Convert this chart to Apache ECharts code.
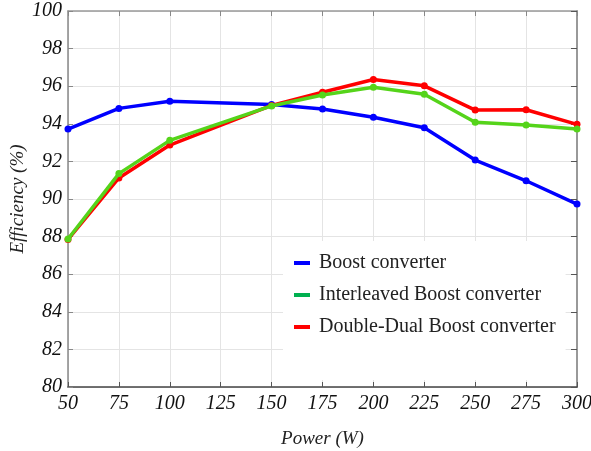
<!DOCTYPE html>
<html>
<head>
<meta charset="utf-8">
<script src="https://cdn.jsdelivr.net/npm/echarts@6/dist/echarts.min.js"></script>
<style>html,body{margin:0;padding:0;background:#fff;}#c{width:591px;height:451px;}</style>
</head>
<body>
<div id="c"></div>
<script>
var power = [50, 75, 100, 150, 175, 200, 225, 250, 275, 300];
var boost = [93.72, 94.82, 95.2, 95.03, 94.79, 94.35, 93.79, 92.07, 90.97, 89.73];
var interleaved = [87.87, 91.35, 93.12, 94.95, 95.53, 95.94, 95.57, 94.08, 93.94, 93.72];
var doubleDual = [87.85, 91.12, 92.87, 94.98, 95.68, 96.36, 96.02, 94.73, 94.75, 93.97];
var seriesNames = ['Boost converter', 'Interleaved Boost converter', 'Double-Dual Boost converter'];

function pairs(ys) { return power.map(function (x, i) { return [x, ys[i]]; }); }

var serif = 'Liberation Serif';
var chart = echarts.init(document.getElementById('c'));
function lineSeries(name, data, color, z) {
  return {
    name: name, type: 'line', data: pairs(data), z: z,
    symbol: 'circle', symbolSize: 7,
    lineStyle: { color: color, width: 3.5 },
    itemStyle: { color: color },
    animation: false
  };
}
chart.setOption({
  backgroundColor: '#fff',
  animation: false,
  grid: { left: 68, right: 14, top: 11, bottom: 64, containLabel: false, outerBoundsMode: 'none' },
  xAxis: [{
    type: 'value', min: 50, max: 300, interval: 25, position: 'bottom',
    name: 'Power (W)', nameLocation: 'middle', nameGap: 42,
    nameTextStyle: { fontFamily: serif, fontStyle: 'italic', fontSize: 19, color: '#222' },
    axisLine: { show: true, onZero: false, lineStyle: { color: '#444', width: 1.5 } },
    axisTick: { show: true, inside: true, length: 5, lineStyle: { color: '#555' } },
    axisLabel: { fontFamily: serif, fontStyle: 'italic', fontSize: 20, color: '#111', margin: 7 },
    splitLine: { show: true, lineStyle: { color: '#e4e4e4', width: 1 } }
  }, {
    type: 'value', min: 50, max: 300, interval: 25, position: 'top',
    axisLine: { show: true, onZero: false, lineStyle: { color: '#999', width: 1.5 } },
    axisTick: { show: true, inside: true, length: 5, lineStyle: { color: '#888' } },
    axisLabel: { show: false }, splitLine: { show: false }
  }],
  yAxis: [{
    type: 'value', min: 80, max: 100, interval: 2, position: 'left',
    name: 'Efficiency (%)', nameLocation: 'middle', nameGap: 41, nameMoveOverlap: false,
    nameTextStyle: { fontFamily: serif, fontStyle: 'italic', fontSize: 19, color: '#222' },
    axisLine: { show: true, onZero: false, lineStyle: { color: '#888', width: 1.5 } },
    axisTick: { show: true, inside: true, length: 5, lineStyle: { color: '#888' } },
    axisLabel: { fontFamily: serif, fontStyle: 'italic', fontSize: 20, color: '#111', margin: 6 },
    splitLine: { show: true, lineStyle: { color: '#e4e4e4', width: 1 } }
  }, {
    type: 'value', min: 80, max: 100, interval: 2, position: 'right',
    axisLine: { show: true, onZero: false, lineStyle: { color: '#999', width: 2 } },
    axisTick: { show: true, inside: true, length: 6, lineStyle: { color: '#555' } },
    axisLabel: { show: false }, splitLine: { show: false }
  }],
  legend: {
    orient: 'vertical', left: 283, top: 241,
    padding: [12, 10, 43, 11],
    backgroundColor: '#fff',
    itemWidth: 16, itemHeight: 4, itemGap: 12,
    icon: 'rect',
    textStyle: { fontFamily: serif, fontSize: 20, color: '#222', lineHeight: 20, padding: [0, 0, 0, 4] },
    data: [
      { name: seriesNames[0], itemStyle: { color: '#0000ff' } },
      { name: seriesNames[1], itemStyle: { color: '#00b050' } },
      { name: seriesNames[2], itemStyle: { color: '#ff0000' } }
    ],
    z: 20
  },
  series: [
    lineSeries(seriesNames[0], boost, '#0000ff', 2),
    lineSeries(seriesNames[2], doubleDual, '#ff0000', 3),
    lineSeries(seriesNames[1], interleaved, '#55d41a', 4)
  ]
});
</script>
</body>
</html>
